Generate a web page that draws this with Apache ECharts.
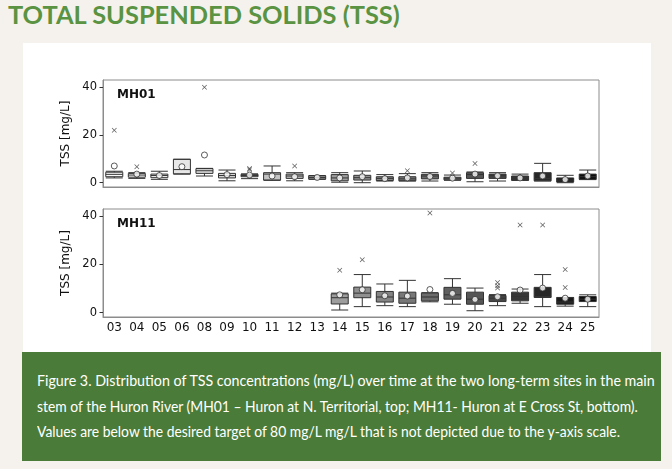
<!DOCTYPE html>
<html>
<head>
<meta charset="utf-8">
<script src="https://cdn.jsdelivr.net/npm/echarts@6/dist/echarts.min.js"></script>
<style>
html, body { margin: 0; padding: 0; width: 672px; height: 469px; overflow: hidden; background: #f5f2ed; }
#title { position: absolute; left: 8px; top: -1px; font: bold 25px Lato; line-height: 30px; color: #5a9341; white-space: nowrap; transform-origin: 0 0; }
#card { position: absolute; left: 23px; top: 43px; width: 628px; height: 309px; background: #fff; }
#chart { position: absolute; left: 23px; top: 43px; width: 628px; height: 309px; }
#caption { position: absolute; left: 22px; top: 352px; width: 639px; height: 109px; background: #4b7b38; }
.line { position: absolute; left: 15px; font: 16px Lato; line-height: 20px; color: #fff; white-space: nowrap; transform-origin: 0 0; }
</style>
</head>
<body>
<div id="title">TOTAL SUSPENDED SOLIDS (TSS)</div>
<div id="card"></div>
<div id="chart"></div>
<div id="caption">
  <div class="line" style="top:18px" data-w="618">Figure 3. Distribution of TSS concentrations (mg/L) over time at the two long-term sites in the main</div>
  <div class="line" style="top:44px" data-w="601">stem of the Huron River (MH01 – Huron at N. Territorial, top; MH11- Huron at E Cross St, bottom).</div>
  <div class="line" style="top:69px" data-w="583">Values are below the desired target of 80 mg/L mg/L that is not depicted due to the y-axis scale.</div>
</div>
<script>
// squeeze the page text to the widths of the original layout
function fitWidth(el, w) {
    el.style.transform = 'scaleX(' + (w / el.offsetWidth) + ')';
}
fitWidth(document.getElementById('title'), 392);
document.querySelectorAll('.line').forEach(function (el) {
    fitWidth(el, +el.getAttribute('data-w'));
});

var categories = ['03', '04', '05', '06', '08', '09', '10', '11', '12', '13', '14',
    '15', '16', '17', '18', '19', '20', '21', '22', '23', '24', '25'];
var yTicks = [0, 20, 40];

// [min, Q1, median, Q3, max]
var mh01Boxes = [
    [2.0, 2.5, 3.5, 4.4, 4.8],
    [1.8, 2.3, 3.2, 3.9, 4.2],
    [1.4, 2.1, 3.0, 3.6, 4.8],
    [3.6, 3.7, 5.5, 9.8, 9.8],
    [2.8, 3.9, 5.0, 5.9, 6.0],
    [0.8, 2.0, 3.0, 3.9, 5.3],
    [1.7, 2.5, 3.0, 3.5, 3.7],
    [1.0, 1.1, 3.6, 4.2, 7.0],
    [0.8, 1.8, 2.8, 3.6, 4.2],
    [1.4, 1.5, 2.2, 2.9, 3.0],
    [0.2, 0.8, 2.0, 3.4, 4.2],
    [0.0, 1.1, 2.1, 3.1, 4.9],
    [0.7, 0.9, 1.8, 2.5, 3.4],
    [0.7, 0.8, 1.6, 2.5, 3.8],
    [0.7, 1.6, 2.8, 3.5, 4.2],
    [1.0, 1.2, 1.9, 2.3, 3.2],
    [0.4, 1.8, 3.4, 4.2, 4.5],
    [0.7, 1.8, 2.9, 3.6, 4.2],
    [1.0, 1.0, 1.9, 2.8, 3.6],
    [0.7, 0.8, 1.8, 4.2, 8.1],
    [0.0, 0.3, 1.1, 2.0, 3.1],
    [1.3, 1.4, 2.5, 3.6, 5.3]
];
var mh01Means = [7.0, 3.6, 3.0, 6.7, 11.6, 3.4, 3.2, 2.8, 2.5, 2.2, 2.0,
    2.5, 1.7, 2.0, 2.6, 1.9, 3.6, 2.9, 2.0, 2.8, 1.3, 2.8];
var mh01Outliers = [['03', 22.0], ['04', 6.7], ['08', 40.0], ['10', 5.4], ['10', 5.9],
    ['12', 7.0], ['17', 5.0], ['19', 4.1], ['20', 8.0]];

var mh11Boxes = [
    null, null, null, null, null, null, null, null, null, null,
    [1.1, 3.6, 6.2, 7.8, 8.1],
    [2.5, 6.2, 8.1, 10.6, 15.8],
    [2.9, 4.4, 6.5, 8.8, 11.9],
    [2.5, 3.9, 6.0, 8.5, 13.4],
    [4.5, 4.9, 6.5, 8.1, 8.3],
    [3.5, 5.6, 7.4, 10.5, 14.1],
    [0.8, 3.5, 5.6, 8.5, 10.2],
    [2.9, 4.6, 6.0, 7.1, 7.5],
    [3.9, 4.9, 6.7, 8.5, 9.8],
    [2.5, 6.3, 6.7, 10.5, 15.8],
    [2.7, 3.5, 4.4, 6.3, 6.3],
    [2.5, 4.6, 5.6, 6.7, 7.4]
];
var mh11Means = [null, null, null, null, null, null, null, null, null, null,
    7.4, 9.5, 7.0, 6.9, 9.6, 8.0, 5.5, 6.6, 9.4, 10.2, 6.0, 5.6];
var mh11Outliers = [['14', 17.6], ['15', 22.0], ['18', 41.3], ['21', 10.2], ['21', 11.2],
    ['21', 12.5], ['22', 36.4], ['23', 36.4], ['24', 10.4], ['24', 17.9]];

// matplotlib "Greys" stops, sampled light to dark along the categories
var greys = ['#ffffff', '#f0f0f0', '#d9d9d9', '#bdbdbd', '#969696', '#737373', '#525252', '#252525', '#000000'];
function grey(t) {
    var p = t * (greys.length - 1), i = Math.min(Math.floor(p), greys.length - 2), f = p - i;
    var a = parseInt(greys[i].slice(1, 3), 16), b = parseInt(greys[i + 1].slice(1, 3), 16);
    var v = Math.round(a + (b - a) * f).toString(16).padStart(2, '0');
    return '#' + v + v + v;
}
var fills = categories.map(function (c, i) { return grey((i + 1) / (categories.length + 1)); });

function boxData(boxes) {
    return boxes.map(function (b, i) {
        return b ? { value: b, itemStyle: { color: fills[i] } } : '-';
    });
}
function meanData(means) {
    return means.map(function (m, i) { return m == null ? '-' : [categories[i], m]; });
}

var cross = 'path://M0,1L1,0L5,4L9,0L10,1L6,5L10,9L9,10L5,6L1,10L0,9L4,5Z';
var txt = '#111';
var frame = '#8c8c8c';

function xAxis(gi, labels) {
    return {
        type: 'category', gridIndex: gi, data: categories,
        axisLine: { onZero: false, lineStyle: { color: frame } },
        axisTick: { alignWithLabel: true, length: 3.5, lineStyle: { color: '#333' } },
        axisLabel: { show: labels, margin: 5, color: txt, fontSize: 12, fontFamily: 'DejaVu Sans' }
    };
}
function yAxis(gi) {
    return {
        type: 'value', gridIndex: gi, min: -1.8, max: 43,
        name: 'TSS [mg/L]', nameLocation: 'middle', nameGap: 26,
        nameTextStyle: { color: txt, fontSize: 12, fontFamily: 'DejaVu Sans' },
        splitLine: { show: false },
        axisLine: { show: true, lineStyle: { color: frame } },
        axisTick: { show: true, length: 3.5, lineStyle: { color: '#333' }, customValues: yTicks },
        axisLabel: { margin: 6, color: txt, fontSize: 11.5, fontFamily: 'DejaVu Sans', customValues: yTicks }
    };
}
function panelSeries(gi, boxes, means, outliers) {
    return [
        {
            type: 'boxplot', xAxisIndex: gi, yAxisIndex: gi, data: boxData(boxes),
            boxWidth: [17, 17],
            itemStyle: { borderColor: '#333', borderWidth: 1 }
        },
        {
            type: 'scatter', xAxisIndex: gi, yAxisIndex: gi, data: outliers,
            symbol: cross, symbolSize: 5, itemStyle: { color: '#333' }
        },
        {
            type: 'scatter', xAxisIndex: gi, yAxisIndex: gi, data: meanData(means),
            symbol: 'circle', symbolSize: 6, z: 3,
            itemStyle: { color: '#fff', borderColor: '#333', borderWidth: 1 }
        }
    ];
}

var chart = echarts.init(document.getElementById('chart'));
chart.setOption({
    animation: false,
    title: [
        { text: 'MH01', left: 94, top: 46, padding: 0, textStyle: { fontSize: 12, fontWeight: 'bold', color: '#111', fontFamily: 'DejaVu Sans' } },
        { text: 'MH11', left: 94, top: 175, padding: 0, textStyle: { fontSize: 12, fontWeight: 'bold', color: '#111', fontFamily: 'DejaVu Sans' } }
    ],
    grid: [
        { left: 80, top: 37, width: 496, height: 107, show: true, borderColor: frame, borderWidth: 1 },
        { left: 80, top: 166, width: 496, height: 108, show: true, borderColor: frame, borderWidth: 1 }
    ],
    xAxis: [xAxis(0, false), xAxis(1, true)],
    yAxis: [yAxis(0), yAxis(1)],
    series: panelSeries(0, mh01Boxes, mh01Means, mh01Outliers)
        .concat(panelSeries(1, mh11Boxes, mh11Means, mh11Outliers))
});
</script>
</body>
</html>
